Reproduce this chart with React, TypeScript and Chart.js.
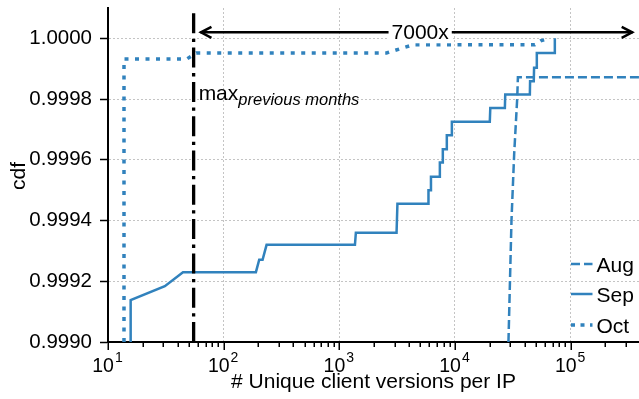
import React, { useEffect, useRef } from "react";
import { Chart, registerables } from "chart.js";

Chart.register(...registerables);

const seriesNames = ["Aug", "Sep", "Oct"];

const augX = [29000, 30800, 32500, 34500, 35000, 390000];
const augY = [0.999, 0.9994, 0.99962, 0.9998, 0.999872, 0.999872];

const sepX = [15.7, 15.7, 31, 44.5, 190, 203, 217, 235, 1365, 1390, 3125, 3180, 5860, 5900, 6150, 6200, 7300, 7400, 7800, 7850, 8450, 8500, 9330, 9400, 20000, 20200, 27000, 27200, 44400, 44600, 48000, 48300, 50700, 51000, 73000, 73000];
const sepY = [0.999, 0.999138, 0.999184, 0.99923, 0.99923, 0.999271, 0.999271, 0.99932, 0.99932, 0.99936, 0.99936, 0.999455, 0.999455, 0.9995, 0.9995, 0.999544, 0.999544, 0.999591, 0.999591, 0.999635, 0.999635, 0.999681, 0.999681, 0.999725, 0.999725, 0.999771, 0.999771, 0.999815, 0.999815, 0.999859, 0.999859, 0.999903, 0.999903, 0.999952, 0.999952, 1.0];

const octX = [13.75, 13.75, 48, 58, 2560, 4350, 49000, 55000, 66000];
const octY = [0.999, 0.999932, 0.999932, 0.999952, 0.999952, 0.999979, 0.999979, 0.999992, 1.0];

const prevMaxX = 55;
const arrowFromX = 63;
const arrowToX = 344000;
const arrowY = 1.00002;
const arrowLabel = "7000x";
const arrowLabelX = 5000;
const maxLabelMain = "max";
const maxLabelSub = "previous months";
const maxLabelY = 0.999797;

const yTicks = [0.999, 0.9992, 0.9994, 0.9996, 0.9998, 1.0];
const yTickLabels = ["0.9990", "0.9992", "0.9994", "0.9996", "0.9998", "1.0000"];
const xMajorExponents = [1, 2, 3, 4, 5];
const xMinorTicks = [20, 30, 40, 50, 60, 70, 80, 90, 200, 300, 400, 500, 600, 700, 800, 900, 2000, 3000, 4000, 5000, 6000, 7000, 8000, 9000, 20000, 30000, 40000, 50000, 60000, 70000, 80000, 90000, 200000, 300000];

const xTitle = "# Unique client versions per IP";
const yTitle = "cdf";

const BLUE = "#3182bd";
const FONT = "'Liberation Sans', Arial, Helvetica, sans-serif";

const seriesStyles = [
  { dash: [9, 4], width: 2.5 },
  { dash: [] as number[], width: 2.5 },
  { dash: [4, 6.5], width: 3.5 },
];

const isMajor = (v: number) => xMajorExponents.some((p) => Math.abs(Math.log10(v) - p) < 1e-9);

const overlayPlugin = {
  id: "overlay",
  afterDatasetsDraw(chart: any) {
    const ctx = chart.ctx as CanvasRenderingContext2D;
    const xs = chart.scales.x;
    const ys = chart.scales.y;
    const area = chart.chartArea;
    ctx.save();

    // x tick marks
    ctx.strokeStyle = "#000";
    ctx.lineWidth = 1.5;
    const allX = [...xMajorExponents.map((p) => Math.pow(10, p)), ...xMinorTicks];
    for (const v of allX) {
      const px = Math.round(xs.getPixelForValue(v)) + 0.25;
      const len = isMajor(v) ? 8 : 5;
      ctx.beginPath();
      ctx.moveTo(px, area.bottom);
      ctx.lineTo(px, area.bottom + len);
      ctx.stroke();
    }

    // x tick labels with superscripts
    ctx.fillStyle = "#000";
    ctx.textAlign = "left";
    ctx.textBaseline = "alphabetic";
    for (const p of xMajorExponents) {
      const px = xs.getPixelForValue(Math.pow(10, p));
      ctx.font = `19.5px ${FONT}`;
      const w1 = ctx.measureText("10").width;
      ctx.font = `14px ${FONT}`;
      const w2 = ctx.measureText(String(p)).width;
      const start = px - (w1 + w2) / 2 - 1;
      ctx.font = `19.5px ${FONT}`;
      ctx.fillText("10", start, area.bottom + 30.3);
      ctx.font = `14px ${FONT}`;
      ctx.fillText(String(p), start + w1 + 1, area.bottom + 19.5);
    }

    // axis titles
    ctx.font = `21px ${FONT}`;
    ctx.textAlign = "center";
    ctx.fillText(xTitle, (area.left + area.right) / 2, area.bottom + 46);
    ctx.save();
    ctx.translate(25, (area.top + area.bottom) / 2 + 1);
    ctx.rotate(-Math.PI / 2);
    ctx.fillText(yTitle, 0, 0);
    ctx.restore();

    // arrow
    const ay = ys.getPixelForValue(arrowY);
    const ax1 = xs.getPixelForValue(arrowFromX);
    const ax2 = xs.getPixelForValue(arrowToX);
    ctx.strokeStyle = "#000";
    ctx.lineWidth = 2.5;
    ctx.lineCap = "butt";
    ctx.beginPath();
    ctx.moveTo(ax1, ay);
    ctx.lineTo(ax2, ay);
    ctx.stroke();
    ctx.beginPath();
    ctx.moveTo(ax1 + 11, ay - 5.5);
    ctx.lineTo(ax1 + 0.5, ay);
    ctx.lineTo(ax1 + 11, ay + 5.5);
    ctx.moveTo(ax2 - 11, ay - 5.5);
    ctx.lineTo(ax2 - 0.5, ay);
    ctx.lineTo(ax2 - 11, ay + 5.5);
    ctx.stroke();

    // arrow label with white box
    ctx.font = `21px ${FONT}`;
    const lx = xs.getPixelForValue(arrowLabelX);
    const lw = ctx.measureText(arrowLabel).width;
    ctx.fillStyle = "#fff";
    ctx.fillRect(lx - lw / 2 - 3, ay - 11, lw + 6, 22);
    ctx.fillStyle = "#000";
    ctx.textAlign = "center";
    ctx.fillText(arrowLabel, lx, ay + 7);

    // max label
    const mx = xs.getPixelForValue(prevMaxX) + 5;
    const my = ys.getPixelForValue(maxLabelY);
    ctx.textAlign = "left";
    ctx.font = `21px ${FONT}`;
    ctx.fillText(maxLabelMain, mx, my);
    const mw = ctx.measureText(maxLabelMain).width;
    ctx.font = `italic 16.5px ${FONT}`;
    ctx.fillText(maxLabelSub, mx + mw, my + 4.5);

    // legend
    const baselines = [area.bottom - 70.3, area.bottom - 40.3, area.bottom - 9.3];
    const lx0 = area.right - 68;
    const lx1 = area.right - 46.5;
    for (let i = 0; i < seriesNames.length; i++) {
      const b = baselines[i];
      const st = seriesStyles[i];
      ctx.strokeStyle = BLUE;
      ctx.lineWidth = st.width;
      ctx.setLineDash(i === 2 ? [4, 5.5] : st.dash);
      ctx.beginPath();
      ctx.moveTo(lx0, b - 7.7);
      ctx.lineTo(lx1, b - 7.7);
      ctx.stroke();
      ctx.setLineDash([]);
      ctx.fillStyle = "#000";
      ctx.font = `21px ${FONT}`;
      ctx.fillText(seriesNames[i], area.right - 42.5, b);
    }

    ctx.restore();
  },
};

export default function App() {
  const ref = useRef<HTMLCanvasElement | null>(null);

  useEffect(() => {
    document.body.style.margin = "0";
    if (!ref.current) return;
    Chart.defaults.font.family = FONT;
    const toPts = (xs: number[], ys: number[]) => xs.map((x, i) => ({ x, y: ys[i] }));
    const seriesData = [toPts(augX, augY), toPts(sepX, sepY), toPts(octX, octY)];

    const chart = new Chart(ref.current, {
      type: "line",
      data: {
        datasets: [
          {
            label: "max previous months",
            data: [
              { x: prevMaxX, y: yTicks[0] },
              { x: prevMaxX, y: 1.0001 },
            ],
            borderColor: "#000",
            borderWidth: 3.3,
            borderDash: [20, 5.5, 3.3, 5.5],
            pointRadius: 0,
            fill: false,
            tension: 0,
          },
          ...seriesNames.map((name, i) => ({
            label: name,
            data: seriesData[i],
            borderColor: BLUE,
            borderWidth: seriesStyles[i].width,
            borderDash: seriesStyles[i].dash,
            borderCapStyle: "butt" as const,
            pointRadius: 0,
            fill: false,
            tension: 0,
          })),
        ],
      },
      options: {
        responsive: false,
        animation: false,
        devicePixelRatio: 1,
        layout: { padding: { top: 8, right: 0, left: 0, bottom: 0 } },
        plugins: {
          legend: { display: false },
          tooltip: { enabled: false },
          title: { display: false },
        },
        scales: {
          x: {
            type: "logarithmic",
            min: 10,
            max: 390000,
            afterBuildTicks: (s: any) => {
              const vals = [...xMajorExponents.map((p) => Math.pow(10, p)), ...xMinorTicks].sort((a, b) => a - b);
              s.ticks = vals.map((v) => ({ value: v }));
            },
            afterFit: (s: any) => {
              s.height = 57;
              s.paddingLeft = 0;
              s.paddingRight = 0;
            },
            ticks: { callback: () => "", autoSkip: false, maxRotation: 0 },
            grid: {
              color: (c: any) => (c.tick && isMajor(c.tick.value) ? "#c4c4c4" : "rgba(0,0,0,0)"),
              lineWidth: 1,
              drawTicks: false,
            },
            border: { display: true, color: "#000", width: 2, dash: [2, 2] },
          },
          y: {
            type: "linear",
            min: 0.999,
            max: 1.0001,
            afterBuildTicks: (s: any) => {
              s.ticks = yTicks.map((v) => ({ value: v }));
            },
            afterFit: (s: any) => {
              s.width = 108;
              s.paddingTop = 0;
              s.paddingBottom = 0;
            },
            ticks: {
              callback: (_v: any, i: number) => yTickLabels[i],
              font: { family: FONT, size: 20.5 },
              color: "#000",
              padding: 8,
              autoSkip: false,
            },
            grid: {
              color: "#c4c4c4",
              lineWidth: 1,
              drawTicks: true,
              tickLength: 8,
              tickColor: "#000",
              tickWidth: 1.5,
            },
            border: { display: true, color: "#000", width: 2, dash: [2, 2] },
          },
        },
      },
      plugins: [overlayPlugin],
    });
    return () => chart.destroy();
  }, []);

  return (
    <div style={{ width: 639, height: 399, background: "#fff" }}>
      <canvas ref={ref} width={639} height={399} style={{ display: "block" }} />
    </div>
  );
}
